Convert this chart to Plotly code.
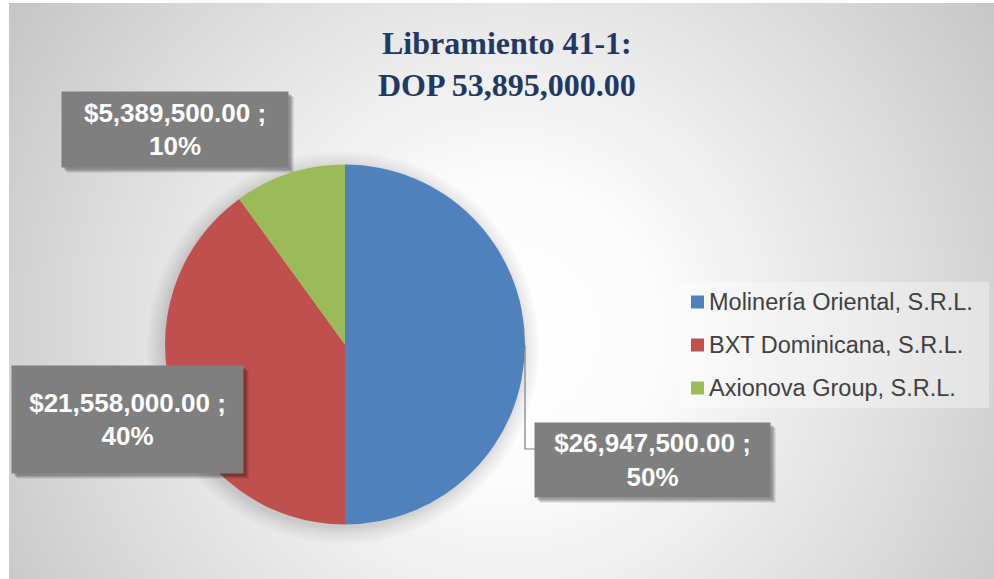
import base64
import plotly.graph_objects as go

# ---- data ----
companies = ["Molinería Oriental, S.R.L.", "BXT Dominicana, S.R.L.", "Axionova Group, S.R.L."]
amounts = [26947500.00, 21558000.00, 5389500.00]
slice_colors = ["#4F81BD", "#C0504D", "#9BBB59"]
title_lines = ["Libramiento 41-1:", "DOP 53,895,000.00"]

W, H = 994, 579
total = sum(amounts)


def px(x):
    return x / W


def py(y):
    return 1 - y / H


# radial-gradient chart area as an inline SVG image
bg_svg = """<svg xmlns='http://www.w3.org/2000/svg' width='985' height='576' viewBox='0 0 985 576' preserveAspectRatio='none'>
<defs><radialGradient id='g' gradientUnits='userSpaceOnUse' cx='500' cy='330' r='620'>
<stop offset='0' stop-color='#ffffff'/><stop offset='0.25' stop-color='#fbfbfb'/>
<stop offset='0.75' stop-color='#d6d6d6'/><stop offset='1' stop-color='#c2c2c2'/></radialGradient></defs>
<rect x='0' y='0' width='985' height='576' fill='url(#g)'/></svg>"""
bg_uri = "data:image/svg+xml;base64," + base64.b64encode(bg_svg.encode()).decode()

# pie geometry (pixels)
cx, cy, r = 345, 344.5, 180

fig = go.Figure(
    go.Pie(
        labels=companies,
        values=amounts,
        marker=dict(colors=slice_colors, line=dict(width=0)),
        sort=False,
        direction="clockwise",
        rotation=0,
        textinfo="none",
        showlegend=False,
        domain=dict(x=[px(cx - r), px(cx + r)], y=[py(cy + r), py(cy - r)]),
    )
)

shapes = []
annotations = []

# soft shadow around the pie
for pad in [16, 13, 10, 7, 5, 3, 1]:
    shapes.append(dict(
        type="circle", xref="paper", yref="paper", layer="below",
        x0=px(cx - r - pad - 2), x1=px(cx + r + pad - 2),
        y0=py(cy + r + pad + 3), y1=py(cy - r - pad + 3),
        fillcolor="rgba(0,0,0,0.018)", line=dict(width=0),
    ))

# data label boxes: (center x, center y, width, height) in pixels
label_boxes = [(652.5, 460, 235, 74), (127.5, 419.5, 231, 107), (175, 129.5, 226, 75)]
for amt, (bx, by, bw, bh) in zip(amounts, label_boxes):
    pct = amt / total * 100
    # drop shadow
    for k, a in [(6, 0.07), (5, 0.09), (4, 0.11), (3, 0.13)]:
        shapes.append(dict(
            type="rect", xref="paper", yref="paper", layer="above",
            x0=px(bx - bw / 2 + k - 1), x1=px(bx + bw / 2 + k),
            y0=py(by + bh / 2 + k), y1=py(by - bh / 2 + k - 1),
            fillcolor=f"rgba(0,0,0,{a})", line=dict(width=0),
        ))
    annotations.append(dict(
        xref="paper", yref="paper", x=px(bx), y=py(by),
        xanchor="center", yanchor="middle",
        text=f"${amt:,.2f} ;<br>{pct:.0f}%",
        showarrow=False, align="center",
        width=bw, height=bh, borderpad=0,
        bgcolor="#7F7F7F",
        font=dict(family="Liberation Sans, Arial, sans-serif", size=26, color="white", weight="bold"),
    ))

# leader line for the largest slice
shapes.append(dict(
    type="path", xref="paper", yref="paper", layer="above",
    path=f"M {px(525)},{py(345)} L {px(525)},{py(449)} L {px(535)},{py(449)}",
    line=dict(color="#7F7F7F", width=1.2),
))

# legend panel
shapes.append(dict(
    type="rect", xref="paper", yref="paper", layer="below",
    x0=px(679), x1=px(989), y0=py(408), y1=py(282),
    fillcolor="rgba(255,255,255,0.35)", line=dict(width=0),
))
legend_rows = [302, 345, 388]
for name, col, ly in zip(companies, slice_colors, legend_rows):
    shapes.append(dict(
        type="rect", xref="paper", yref="paper", layer="above",
        x0=px(691), x1=px(704), y0=py(ly + 6.5), y1=py(ly - 6.5),
        fillcolor=col, line=dict(width=0),
    ))
    annotations.append(dict(
        xref="paper", yref="paper", x=px(707), y=py(ly),
        xanchor="left", yanchor="middle", text=name, showarrow=False,
        font=dict(family="Liberation Sans, Arial, sans-serif", size=23.5, color="#404040"),
    ))

# title
annotations.append(dict(
    xref="paper", yref="paper", x=px(507), y=py(64),
    xanchor="center", yanchor="middle", showarrow=False,
    text="<br>".join(title_lines),
    font=dict(family="Palatino Linotype, Book Antiqua, Liberation Serif, serif",
              size=32, color="#1F3864", weight="bold"),
))

fig.update_layout(
    width=W, height=H,
    margin=dict(l=0, r=0, t=0, b=0),
    paper_bgcolor="white",
    plot_bgcolor="white",
    shapes=shapes,
    annotations=annotations,
    images=[dict(
        source=bg_uri, xref="paper", yref="paper",
        x=px(9), y=py(3), sizex=(W - 9) / W, sizey=(H - 3) / H,
        xanchor="left", yanchor="top", sizing="stretch", layer="below",
    )],
)

fig.write_html("out.html")
